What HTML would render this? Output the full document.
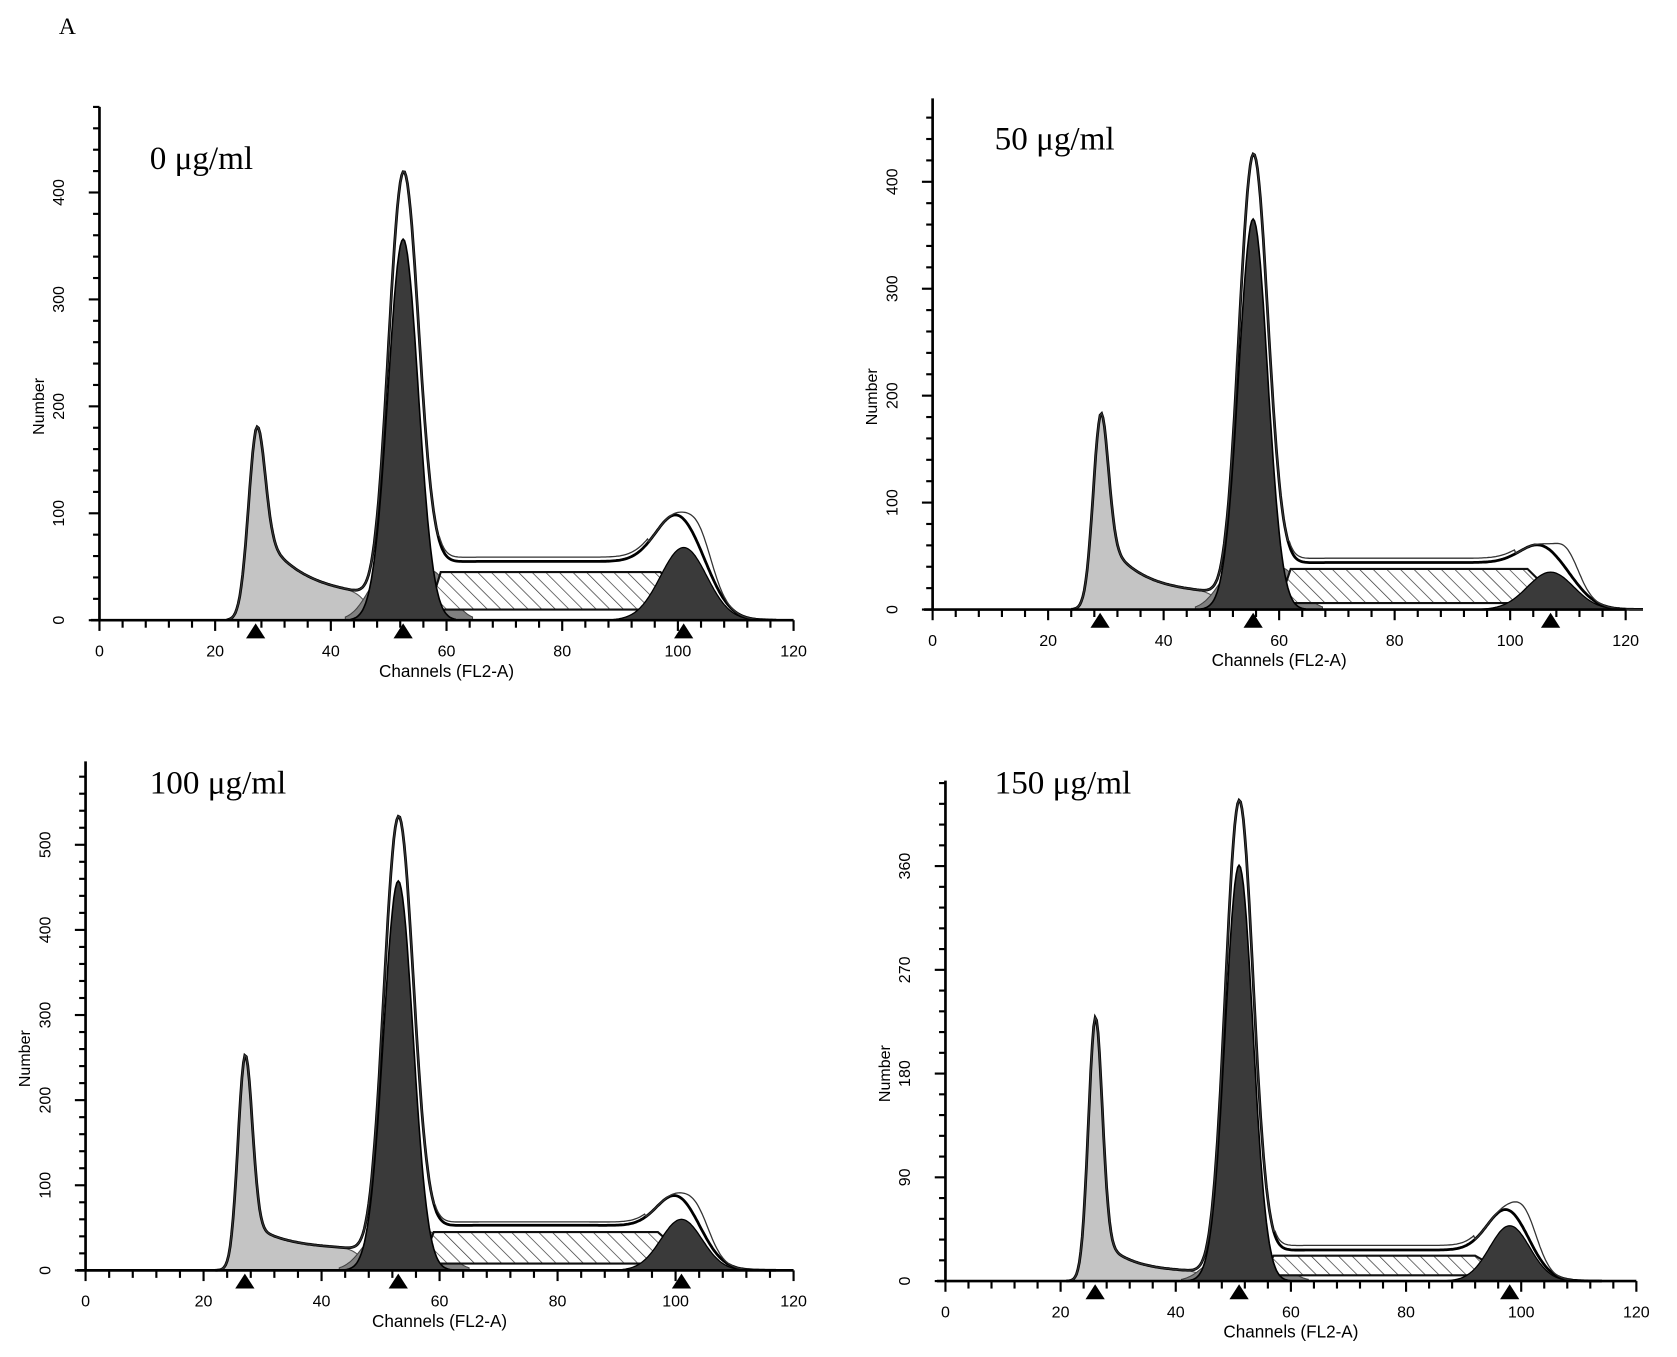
<!DOCTYPE html>
<html><head><meta charset="utf-8"><style>
html,body{margin:0;padding:0;background:#fff;}
svg{display:block;}
.tl{font-family:"Liberation Sans",sans-serif;font-size:15px;fill:#000;}
.lab{font-family:"Liberation Serif",serif;font-size:31px;fill:#000;}
</style></head><body>
<svg id="fig" width="1677" height="1357" viewBox="0 0 1568 1269" preserveAspectRatio="none" xmlns="http://www.w3.org/2000/svg">
<defs>
<pattern id="hatch" patternUnits="userSpaceOnUse" width="9" height="9" patternTransform="rotate(-45)">
<rect width="9" height="9" fill="#fff"/><line x1="0" y1="0" x2="0" y2="9" stroke="#333" stroke-width="1.3"/>
</pattern>
</defs>
<text x="55" y="32" class="lab" style="font-size:22px">A</text>
</svg>
<script>
// panel data (channel, count)
const panelNames = ["0 μg/ml","50 μg/ml","100 μg/ml","150 μg/ml"];
const g1Peaks = [[27,140,1.4],[29,150,1.3],[27,232,1.2],[26,210,1.2]];
const g2Peaks = [[52.5,405,2.6],[55.5,415,2.5],[53,520,2.5],[51,410,2.4]];
const g2mPeaks = [[101,68,4],[107,35,4],[101,60,3.5],[98,48,3.5]];
const sBands = [[57,97,45,10],[60,103,38,6],[57,97,45,8],[55,92,22,5]];
const debris = [[70,7,22],[60,6,15],[35,6,25],[35,5,8]];
const yTicks = [[0,100,200,300,400],[0,100,200,300,400],[0,100,200,300,400,500],[0,90,180,270,360]];
const xTicks = [0,20,40,60,80,100,120];
// layout (not data)
const L = [
 {ax:93,base:580,top:100,x120:742,ppu:1.0,minor:20,lx:140,ly:158},
 {ax:872,base:570,top:92,x120:1520,ppu:1.0,minor:20,lx:930,ly:140},
 {ax:80,base:1188,top:712,x120:742,ppu:0.796,minor:20,lx:140,ly:742},
 {ax:884,base:1198,top:730,x120:1530,ppu:1.078,minor:18,lx:930,ly:742}
];
const svg=document.getElementById('fig');
const NS="http://www.w3.org/2000/svg";
function mk(tag,attrs,parent){const e=document.createElementNS(NS,tag);for(const k in attrs)e.setAttribute(k,attrs[k]);(parent||svg).appendChild(e);return e;}
function gauss(x,p){return p[1]*Math.exp(-0.5*Math.pow((x-p[0])/p[2],2));}
function sig(x,a,w){return 1/(1+Math.exp(-(x-a)/w));}
panelNames.forEach((name,i)=>{
 const l=L[i];
 const X=v=>l.ax+v*(l.x120-l.ax)/120;
 const Y=v=>l.base-v*l.ppu;
 const g=mk('g',{});
 
 
 const s=sBands[i], d=debris[i], g1=g1Peaks[i], g2=g2Peaks[i], gm=g2mPeaks[i];
 const deb=x=> (d[0]*Math.exp(-Math.max(0,x-g1[0])/d[1])*sig(x,g1[0],0.8)+d[2]*sig(x,g1[0]+1,0.5))*(1-sig(x,g2[0]-6,1));
 const sband=x=> s[2]*sig(x,g2[0]+2,1.5)*(1-sig(x,gm[0]-1,2));
 const bumps=x=> gauss(x,[g2[0]-3,s[2],3])+gauss(x,[g2[0]+5,s[2],3]);
 const env=x=> gauss(x,g1)+gauss(x,g2)+gauss(x,gm)+deb(x)+sband(x)+s[3]*sig(x,g2[0],2)*(1-sig(x,gm[0]+6,2));
 function path(fn,a,b,close){let p='';for(let x=a;x<=b;x+=0.25){p+=(p?'L':'M')+X(x).toFixed(1)+','+Y(fn(x)).toFixed(1);}if(close)p+='L'+X(b)+','+Y(0)+'L'+X(a)+','+Y(0)+'Z';return p;}
 let e;
 e=mk('path',{d:path(x=>gauss(x,g1)+deb(x),g1[0]-5,g2[0]-6,true),fill:'#c4c4c4',stroke:'#555','stroke-width':1},g);
 
 e=mk('path',{d:path(bumps,g2[0]-10,g2[0]+12,true),fill:'#808080',stroke:'#444','stroke-width':1},g);
 
 let hp='M'+X(s[0])+','+Y(s[3]);
 hp+='L'+X(s[0]+2)+','+Y(s[2])+'L'+X(s[1])+','+Y(s[2])+'L'+X(s[1]+6)+','+Y(s[3])+'Z';
 e=mk('path',{d:hp,fill:'url(#hatch)',stroke:'#111','stroke-width':2},g);
 
 e=mk('path',{d:path(x=>gauss(x,g2)*0.88,g2[0]-9,g2[0]+9,true),fill:'#3a3a3a',stroke:'#000','stroke-width':1.5},g);
 
 e=mk('path',{d:path(x=>gauss(x,gm),gm[0]-12,gm[0]+12,true),fill:'#3a3a3a',stroke:'#000','stroke-width':1.2},g);
 
 e=mk('path',{d:path(env,g1[0]-5,gm[0]+16,false),fill:'none',stroke:'#000','stroke-width':2.6},g);
 
 e=mk('path',{d:path(x=>env(x)*1.0+ (x>g2[0]+6&&x<gm[0]-6?4:0)+gauss(x,[gm[0]+3,20,2]),g1[0]-6,gm[0]+16,false),fill:'none',stroke:'#333','stroke-width':1.2},g);
 
 e=mk('line',{x1:l.ax,y1:l.top,x2:l.ax,y2:l.base,stroke:'#000','stroke-width':2.5},g);
 
 e=mk('line',{x1:l.ax-8,y1:l.base,x2:l.x120,y2:l.base,stroke:'#000','stroke-width':2.5},g);
 
 const ymax=(l.base-l.top)/l.ppu;
 for(let v=0;v<=ymax;v+=l.minor){mk('line',{x1:l.ax-(v%(l.minor*5)===0?10:6),y1:Y(v),x2:l.ax,y2:Y(v),stroke:'#000','stroke-width':2},g);}
 for(let v=0;v<=120;v+=4){mk('line',{x1:X(v),y1:l.base,x2:X(v),y2:l.base+(v%20===0?10:7),stroke:'#000','stroke-width':2},g);}
 yTicks[i].forEach(v=>{const t=mk('text',{x:0,y:0,class:'tl','text-anchor':'middle',transform:`translate(${l.ax-33},${Y(v)}) rotate(-90)`},g);t.textContent=v;
  });
 xTicks.forEach(v=>{const t=mk('text',{x:X(v),y:l.base+34,class:'tl','text-anchor':'middle'},g);t.textContent=v;
  });
 let t=mk('text',{x:(l.ax+l.x120)/2,y:l.base+53,class:'tl','text-anchor':'middle',style:'font-size:16px'},g);t.textContent='Channels (FL2-A)';
 
 t=mk('text',{x:0,y:0,class:'tl','text-anchor':'middle',style:'font-size:15px',transform:`translate(${l.ax-52},${(l.top+l.base)/2+40}) rotate(-90)`},g);t.textContent='Number';
 
 t=mk('text',{x:l.lx,y:l.ly,class:'lab'},g);t.textContent=name;
 
 [g1[0],g2[0],gm[0]].forEach(m=>{const tr=mk('path',{d:`M${X(m)-9},${l.base+17}L${X(m)+9},${l.base+17}L${X(m)},${l.base+3}Z`,fill:'#000'},g);
  });
});
</script>
</body></html>
